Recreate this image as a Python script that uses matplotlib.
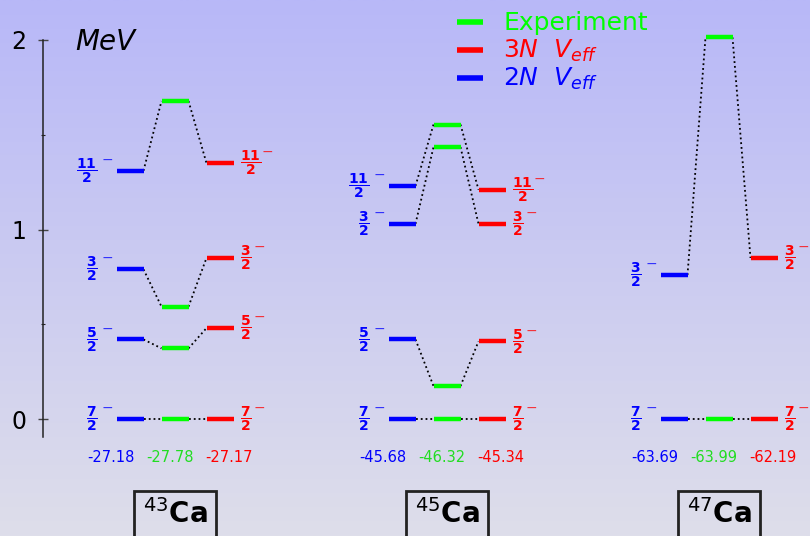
import numpy as np
import matplotlib.pyplot as plt
from matplotlib.colors import LinearSegmentedColormap

# level energies (MeV) for each calcium isotope: 2N Veff, experiment, 3N Veff
nuclei = ['43', '45', '47']
spins = [['7', '5', '3', '11'], ['7', '5', '3', '11'], ['7', '3']]
e_2n = [[0.0, 0.42, 0.79, 1.31], [0.0, 0.42, 1.03, 1.23], [0.0, 0.76]]
e_exp = [[0.0, 0.373, 0.593, 1.678], [0.0, 0.174, 1.435, 1.554], [0.0, 2.014]]
e_3n = [[0.0, 0.48, 0.85, 1.35], [0.0, 0.41, 1.03, 1.21], [0.0, 0.85]]

# ground-state energies (MeV)
gs_2n = ['-27.18', '-45.68', '-63.69']
gs_exp = ['-27.78', '-46.32', '-63.99']
gs_3n = ['-27.17', '-45.34', '-62.19']

c_2n = '#0000ff'
c_exp = '#00ff00'
c_3n = '#ff0000'

fig = plt.figure(figsize=(8.1, 5.36), dpi=100)

# vertical gradient background
bg = fig.add_axes([0, 0, 1, 1], zorder=0)
cmap = LinearSegmentedColormap.from_list('bg', ['#dedeea', '#b8b8f8'])
bg.imshow(np.linspace(0, 1, 256).reshape(-1, 1), aspect='auto', cmap=cmap,
          origin='lower', extent=[0, 1, 0, 1])
bg.axis('off')

ax = fig.add_axes([0, 0, 1, 1], zorder=1)
ax.patch.set_alpha(0)
ax.set_xlim(0, 810)
ax.set_ylim(-0.617, 2.211)

for s in ['top', 'right', 'bottom']:
    ax.spines[s].set_visible(False)
ax.spines['left'].set_position(('data', 43))
ax.spines['left'].set_bounds(-0.095, 2.0)
ax.spines['left'].set_linewidth(1.1)
ax.spines['left'].set_color('#222222')
ax.set_xticks([])
ax.set_yticks([0, 1, 2])
ax.set_yticks([0.5, 1.5], minor=True)
ax.tick_params(axis='y', which='major', direction='inout', length=7.5,
               width=1.0, color='#444444', labelsize=17, pad=8)
ax.tick_params(axis='y', which='minor', direction='inout', length=3.5,
               width=0.8, color='#222222')
ax.text(75, 1.945, 'MeV', fontsize=20, style='italic', va='baseline')


def spin_label(x, y, sp, col, side):
    # bold j/2 fraction with a raised minus for negative parity
    frac = r'$\dfrac{\mathbf{%s}}{\mathbf{2}}$' % sp
    if side == 'left':
        ax.annotate(frac, (x, y), xytext=(-19, 0), textcoords='offset pixels',
                    color=col, fontsize=10, ha='right', va='center')
        ax.annotate('\u2212', (x, y), xytext=(-3, 11), textcoords='offset pixels',
                    color=col, fontsize=10, ha='right', va='center', alpha=0.75)
    else:
        ax.annotate(frac, (x, y), xytext=(7, 0), textcoords='offset pixels',
                    color=col, fontsize=10, ha='left', va='center')
        ax.annotate('\u2212', (x, y), xytext=(12 + 8 * len(sp), 11),
                    textcoords='offset pixels', color=col, fontsize=10,
                    ha='left', va='center', alpha=0.75)


half = 13.5
step = 45
for i, nuc in enumerate(nuclei):
    c = 175 + 272 * i
    xb, xe, xr = c - step, c, c + step
    for j, sp in enumerate(spins[i]):
        b, g, r = e_2n[i][j], e_exp[i][j], e_3n[i][j]
        ax.plot([xb - half, xb + half], [b, b], color=c_2n, lw=3.2,
                solid_capstyle='butt', zorder=3)
        ax.plot([xe - half, xe + half], [g, g], color=c_exp, lw=3.2,
                solid_capstyle='butt', zorder=3)
        ax.plot([xr - half, xr + half], [r, r], color=c_3n, lw=3.2,
                solid_capstyle='butt', zorder=3)
        ax.plot([xb + half, xe - half], [b, g], color='black', ls=':', lw=1.3)
        ax.plot([xe + half, xr - half], [g, r], color='black', ls=':', lw=1.3)

        spin_label(xb - half, b, sp, c_2n, 'left')
        spin_label(xr + half, r, sp, c_3n, 'right')

    yb = -0.205
    ax.text(c - 64, yb, gs_2n[i], color=c_2n, fontsize=10.5, ha='center', va='center')
    ax.text(c - 5, yb, gs_exp[i], color='#22dd22', fontsize=10.5, ha='center', va='center')
    ax.text(c + 54, yb, gs_3n[i], color=c_3n, fontsize=10.5, ha='center', va='center')

    ax.text(c, -0.5, r'$^{%s}$Ca' % nuc, fontsize=20, fontweight='bold',
            ha='center', va='center',
            bbox=dict(boxstyle='square,pad=0.3', fc='none', ec='#222222', lw=2))

# legend drawn by hand at the top
legend = [('Experiment', c_exp), (r'$3N\ \ V_{eff}$', c_3n), (r'$2N\ \ V_{eff}$', c_2n)]
ly = [2.097, 1.947, 1.800]
lb = [2.053, 1.905, 1.758]
for (txt, col), y, yt in zip(legend, ly, lb):
    ax.plot([457, 483], [y, y], color=col, lw=4, solid_capstyle='butt')
    ax.text(503, yt, txt, color=col, fontsize=18, va='baseline')

fig.savefig('out.png', dpi=100)
